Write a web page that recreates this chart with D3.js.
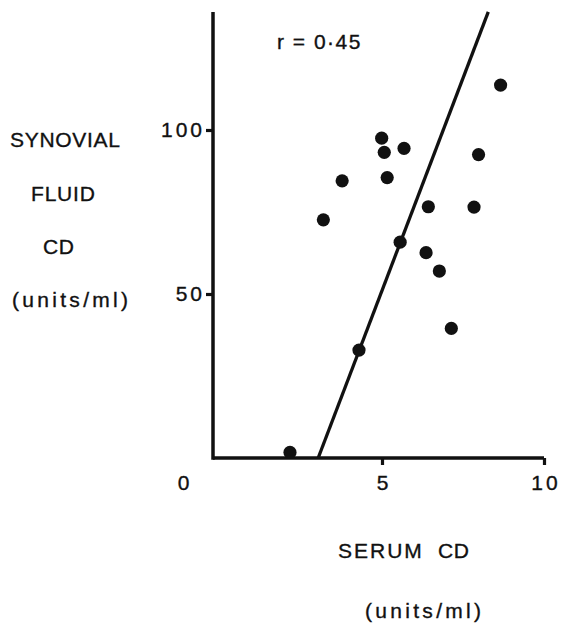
<!DOCTYPE html>
<html>
<head>
<meta charset="utf-8">
<script src="https://cdn.jsdelivr.net/npm/d3@7"></script>
<style>
  body { margin: 0; background: #fff; }
  svg text { font-family: "Liberation Sans", Arial, sans-serif; fill: #111; stroke: #111; stroke-width: 0.35px; }
</style>
</head>
<body>
<div id="chart"></div>
<script>
// serum CD (units/ml) vs synovial fluid CD (units/ml)
var serumCD = [4.99, 5.07, 5.68, 8.66, 7.98, 3.77, 5.16, 3.19, 6.43, 7.84, 5.56, 6.36, 6.77, 7.14, 4.29, 2.16];
var fluidCD = [97.5, 93.2, 94.4, 113.7, 92.5, 84.5, 85.5, 72.6, 76.6, 76.5, 65.8, 62.6, 57.0, 39.5, 32.9, 1.7];
// fitted regression line end points
var fitX = [3.03, 8.28];
var fitY = [0, 136];
var xTicks = [5, 10];
var yTicks = [50, 100];
var yTitle = ["SYNOVIAL", "FLUID", "CD", "(units/ml)"];
var xTitle = ["SERUM", "CD", "(units/ml)"];
var corrText = "r = 0\u00b745";

var width = 575, height = 623;
var originX = 213;

var svg = d3.select("#chart").append("svg")
    .attr("width", width)
    .attr("height", height);

var x = d3.scaleLinear().domain([0, 10]).range([220, 544]);
var y = d3.scaleLinear().domain([0, 100]).range([458, 130]);

// axes lines
svg.append("line")
    .attr("x1", originX).attr("x2", originX)
    .attr("y1", y(0) + 1.7).attr("y2", y(136))
    .attr("stroke", "#111").attr("stroke-width", 3.5);
svg.append("line")
    .attr("x1", originX).attr("x2", x(10))
    .attr("y1", y(0)).attr("y2", y(0))
    .attr("stroke", "#111").attr("stroke-width", 3.5);

var xAxis = svg.append("g")
    .attr("transform", "translate(1.5," + y(0) + ")")
    .call(d3.axisBottom(x).tickValues(xTicks).tickSize(7).tickPadding(10).tickFormat(d3.format("d")));
var yAxis = svg.append("g")
    .attr("transform", "translate(" + originX + ",0)")
    .call(d3.axisLeft(y).tickValues(yTicks).tickSize(7).tickPadding(1).tickFormat(d3.format("d")));

[xAxis, yAxis].forEach(function (a) {
    a.select(".domain").remove();
    a.selectAll(".tick line").attr("stroke", "#111").attr("stroke-width", 3.2);
    a.selectAll(".tick text")
        .attr("fill", "#111")
        .style("font-size", "21px")
        .style("letter-spacing", "3px")
        .style("font-family", "'Liberation Sans', Arial, sans-serif");
});
// keep x tick marks on the data positions (only labels shifted for letter-spacing)
xAxis.selectAll(".tick line").attr("transform", "translate(-1.5,0)");

svg.append("text")
    .attr("x", 183.5).attr("y", 490)
    .attr("text-anchor", "middle")
    .style("font-size", "21px")
    .text("0");

// regression line
svg.append("line")
    .attr("x1", x(fitX[0])).attr("y1", y(fitY[0]))
    .attr("x2", x(fitX[1])).attr("y2", y(fitY[1]))
    .attr("stroke", "#111")
    .attr("stroke-width", 3.3);

// points
svg.selectAll(".dot")
    .data(serumCD)
    .enter().append("circle")
    .attr("class", "dot")
    .attr("cx", function (d) { return x(d); })
    .attr("cy", function (d, i) { return y(fluidCD[i]); })
    .attr("r", 6.6)
    .attr("fill", "#111");

svg.append("text")
    .attr("x", 277).attr("y", 49)
    .style("font-size", "21px")
    .style("letter-spacing", "1.5px")
    .text(corrText);

// y title
var yTitlePos = [[10, 147, 0.7], [31, 201, 0.8], [43, 254, 0.5], [12, 307, 3.3]];
yTitle.forEach(function (t, i) {
    svg.append("text")
        .attr("x", yTitlePos[i][0]).attr("y", yTitlePos[i][1])
        .style("font-size", "21px")
        .style("letter-spacing", yTitlePos[i][2] + "px")
        .text(t);
});

// x title
var xTitlePos = [[338, 558, 2], [438, 558, 0.5], [365, 618, 3.3]];
xTitle.forEach(function (t, i) {
    svg.append("text")
        .attr("x", xTitlePos[i][0]).attr("y", xTitlePos[i][1])
        .style("font-size", "21px")
        .style("letter-spacing", xTitlePos[i][2] + "px")
        .text(t);
});
</script>
</body>
</html>
